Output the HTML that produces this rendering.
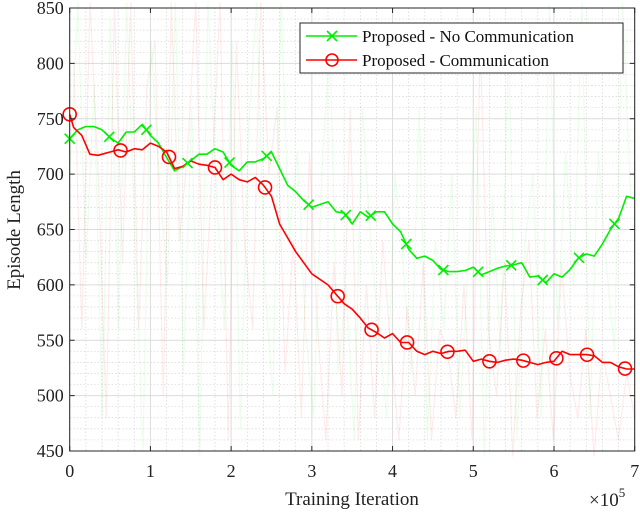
<!DOCTYPE html>
<html><head><meta charset="utf-8">
<style>
html,body{margin:0;padding:0;background:#fff;}
svg{display:block;font-family:"Liberation Serif",serif;}
</style></head>
<body>
<svg id="chart" width="640" height="514" viewBox="0 0 640 514" xmlns="http://www.w3.org/2000/svg">
<rect x="0" y="0" width="640" height="514" fill="#fff"/>
<g id="grid"></g>
<g id="raw"></g>
<g id="series"></g>
<g id="axes"></g>
<text x="20" y="230" font-size="19" text-anchor="middle" transform="rotate(-90 20 230)" fill="#222">Episode Length</text>
<text x="352" y="505" font-size="19" text-anchor="middle" fill="#222">Training Iteration</text>
<text x="589" y="506" font-size="19" fill="#222">×10<tspan font-size="13" dy="-9">5</tspan></text>
<g>
<rect x="300" y="23" width="323" height="50" fill="#fff" stroke="#262626" stroke-width="1"/>
<g>
<line x1="306" y1="36" x2="357" y2="36" stroke="#00ee00" stroke-width="1.6"/>
<path d="M327 31 L337 41 M337 31 L327 41" stroke="#00ee00" stroke-width="1.6"/>
<text x="362" y="42" font-size="17" fill="#111">Proposed - No Communication</text>
</g>
<g>
<line x1="306" y1="60" x2="357" y2="60" stroke="#ff0000" stroke-width="1.6"/>
<circle cx="332" cy="60" r="6" fill="none" stroke="#ff0000" stroke-width="1.6"/>
<text x="362" y="66" font-size="17" fill="#111">Proposed - Communication</text>
</g>
</g>
</svg>
<script>
const xTicks=[0,1,2,3,4,5,6,7];
const yTicks=[450,500,550,600,650,700,750,800,850];
const greenX=[0,0.1,0.2,0.3,0.4,0.5,0.6,0.7,0.8,0.9,1.0,1.1,1.2,1.3,1.4,1.5,1.6,1.7,1.8,1.9,2.0,2.1,2.2,2.3,2.4,2.5,2.6,2.7,2.8,2.9,3.0,3.2,3.3,3.4,3.5,3.6,3.7,3.8,3.9,4.0,4.1,4.2,4.3,4.4,4.5,4.6,4.7,4.8,4.9,5.0,5.1,5.2,5.3,5.4,5.5,5.6,5.7,5.8,5.9,6.0,6.1,6.2,6.3,6.4,6.5,6.6,6.7,6.8,6.9,7.0];
const greenY=[732,740,743,743,740,733,728,738,738,745,735,728,715,703,707,712,718,718,723,720,708,703,711,711,714,720,705,690,684,676,670,675,666,665,655,666,661,666,666,655,648,632,624,626,622,614,612,612,613,616,609,612,615,617,618,620,607,608,602,610,607,614,624,628,626,637,650,660,680,678];
const redX=[0,0.05,0.15,0.25,0.35,0.5,0.6,0.7,0.8,0.9,1.0,1.1,1.2,1.3,1.4,1.5,1.6,1.7,1.8,1.9,2.0,2.1,2.2,2.3,2.4,2.5,2.6,2.8,3.0,3.2,3.4,3.5,3.6,3.7,3.8,3.9,4.0,4.1,4.2,4.3,4.4,4.5,4.6,4.7,4.8,4.9,5.0,5.1,5.2,5.3,5.4,5.5,5.6,5.7,5.8,5.9,6.0,6.1,6.2,6.3,6.4,6.5,6.6,6.7,6.8,6.9,7.0];
const redY=[754,742,735,718,717,720,722,720,723,722,728,725,720,705,707,712,709,708,706,695,700,695,693,697,690,680,655,630,610,600,583,578,570,561,557,552,556,548,548,540,537,540,538,540,540,541,531,533,531,530,532,533,532,530,528,530,531,540,537,537,537,536,530,530,526,524,524];
const greenMarkX=[0,0.49,0.95,1.46,1.98,2.44,2.96,3.42,3.73,4.17,4.63,5.06,5.47,5.86,6.31,6.75];
const redMarkX=[0,0.63,1.23,1.8,2.42,3.32,3.74,4.18,4.68,5.2,5.62,6.03,6.41,6.88];
const rawGreenY=[700,860,620,780,480,840,560,870,650,450,820,700,600,880,520,760,440,860,690,560,820,470,740,880,600,500,860,640,720,560,480,700,820,520,600,460,760,640,560,480,700,620,520,760,460,640,560,700,480,620,760,440,680,540,820,460,640,700,480,860,560,720,600,860,480,720,620,540,860,680];
const rawRedY=[800,560,860,700,480,850,620,860,560,780,820,500,860,640,720,880,560,700,860,460,820,640,560,860,700,760,520,640,480,720,560,460,620,500,760,460,600,480,640,540,460,580,500,620,460,560,540,480,600,460,820,560,500,620,440,580,640,480,560,460,620,520,480,560,440,540,500,460,520,480];
const X0=69.7,X1=634.7,Y0=451,Y1=8;
const xs=v=>X0+(v-0)/7*(X1-X0);
const ys=v=>Y0-(v-450)/400*(Y0-Y1);
const NS="http://www.w3.org/2000/svg";
function mk(tag,parent,attrs){const e=document.createElementNS(NS,tag);for(const k in attrs)e.setAttribute(k,attrs[k]);parent.appendChild(e);return e;}
function interp(xa,ya,x){for(let i=0;i<xa.length-1;i++){if(x>=xa[i]&&x<=xa[i+1]){const t=(x-xa[i])/(xa[i+1]-xa[i]);return ya[i]+t*(ya[i+1]-ya[i]);}}return ya[ya.length-1];}
const grid=document.getElementById('grid');
for(let v=0.2;v<7;v+=0.2){if(Math.abs(v-Math.round(v))<0.01)continue;
 const l=mk('line',grid,{x1:xs(v),x2:xs(v),y1:Y1,y2:Y0,stroke:'#d4d4d4','stroke-width':0.7,'stroke-dasharray':'1.5,2'});
 }
for(let v=460;v<850;v+=10){if(v%50===0)continue;
 const l=mk('line',grid,{x1:X0,x2:X1,y1:ys(v),y2:ys(v),stroke:'#d4d4d4','stroke-width':0.7,'stroke-dasharray':'1.5,2'});
 }
xTicks.forEach(v=>{const l=mk('line',grid,{x1:xs(v),x2:xs(v),y1:Y1,y2:Y0,stroke:'#dcdcdc','stroke-width':1});
 });
yTicks.forEach(v=>{const l=mk('line',grid,{x1:X0,x2:X1,y1:ys(v),y2:ys(v),stroke:'#dcdcdc','stroke-width':1});
 });
const raw=document.getElementById('raw');
function rawPath(ys_,off){let d='';ys_.forEach((v,i)=>{const x=(i+off)*7/(ys_.length-1+0.5);const vv=Math.max(445,Math.min(855,v));d+=(i?'L':'M')+xs(Math.min(7,x)).toFixed(1)+' '+ys(vv).toFixed(1);});return d;}
const rg=mk('path',raw,{d:rawPath(rawGreenY,0),fill:'none',stroke:'#00ee00','stroke-opacity':0.08,'stroke-width':1.2});

const rr=mk('path',raw,{d:rawPath(rawRedY,0.5),fill:'none',stroke:'#ff0000','stroke-opacity':0.08,'stroke-width':1.2});

const ser=document.getElementById('series');
function line(xa,ya,color,name){const d=xa.map((x,i)=>(i?'L':'M')+xs(x).toFixed(1)+' '+ys(ya[i]).toFixed(1)).join('');
 const p=mk('path',ser,{d:d,fill:'none',stroke:color,'stroke-width':1.6,'stroke-linejoin':'round'});
 }
line(greenX,greenY,'#00ee00','line-no-communication');
line(redX,redY,'#ff0000','line-communication');
greenMarkX.forEach(x=>{const cx=xs(x),cy=ys(interp(greenX,greenY,x));
 const m=mk('path',ser,{d:`M${cx-5} ${cy-5}L${cx+5} ${cy+5}M${cx+5} ${cy-5}L${cx-5} ${cy+5}`,stroke:'#00ee00','stroke-width':1.6});
 });
redMarkX.forEach(x=>{const cx=xs(x),cy=ys(interp(redX,redY,x));
 const m=mk('circle',ser,{cx:cx,cy:cy,r:6.5,fill:'none',stroke:'#ff0000','stroke-width':1.6});
 });
const ax=document.getElementById('axes');
const fr=mk('rect',ax,{x:X0,y:Y1,width:X1-X0,height:Y0-Y1,fill:'none',stroke:'#262626','stroke-width':1});

xTicks.forEach(v=>{mk('line',ax,{x1:xs(v),x2:xs(v),y1:Y0,y2:Y0-5,stroke:'#262626'});mk('line',ax,{x1:xs(v),x2:xs(v),y1:Y1,y2:Y1+5,stroke:'#262626'});
 const t=mk('text',ax,{x:xs(v),y:Y0+26,'font-size':18,'text-anchor':'middle',fill:'#222'});t.textContent=v;
 });
yTicks.forEach(v=>{mk('line',ax,{x1:X0,x2:X0+5,y1:ys(v),y2:ys(v),stroke:'#262626'});mk('line',ax,{x1:X1,x2:X1-5,y1:ys(v),y2:ys(v),stroke:'#262626'});
 const t=mk('text',ax,{x:X0-6,y:ys(v)+6,'font-size':18,'text-anchor':'end',fill:'#222'});t.textContent=v;
 });
</script>
</body></html>
